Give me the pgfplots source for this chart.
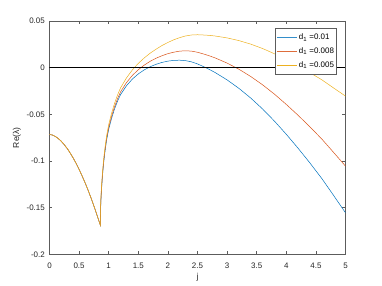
\documentclass[border=0pt]{standalone}
\usepackage{fontspec}
\setmainfont{Liberation Sans}
\usepackage{pgfplots}
\usepackage{pgfplotstable}
\pgfplotsset{compat=1.18}
\definecolor{mblue}{rgb}{0,0.447,0.741}
\definecolor{morange}{rgb}{0.850,0.325,0.098}
\definecolor{myellow}{rgb}{0.929,0.694,0.125}
\definecolor{axgray}{rgb}{0.15,0.15,0.15}

\pgfplotstableread{
j re
0 -0.0716
0.05 -0.0722
0.1 -0.0738
0.15 -0.0760
0.2 -0.0790
0.25 -0.0826
0.3 -0.0867
0.35 -0.0915
0.4 -0.0968
0.45 -0.1026
0.5 -0.1090
0.55 -0.1159
0.6 -0.1232
0.65 -0.1310
0.7 -0.1394
0.75 -0.1482
0.8 -0.1575
0.83 -0.1633
0.86 -0.1690
0.862 -0.1560
0.865 -0.1490
0.87 -0.1410
0.875 -0.1350
0.885 -0.1250
0.895 -0.1160
0.915 -0.1020
0.935 -0.0910
0.965 -0.0775
1.0 -0.0660
1.05 -0.0540
1.1 -0.0440
1.15 -0.0358
1.2 -0.0289
1.3 -0.0194
1.4 -0.0122
1.5 -0.0067
1.6 -0.0024
1.7 0.0010
1.8 0.0036
1.9 0.0056
2.0 0.0070
2.1 0.0078
2.2 0.0080
2.3 0.0075
2.4 0.0062
2.5 0.0040
2.6 0.0012
2.7 -0.0019
2.8 -0.0053
3.0 -0.0131
3.2 -0.0222
3.4 -0.0326
3.6 -0.0443
3.8 -0.0573
4.0 -0.0714
4.2 -0.0864
4.4 -0.1022
4.6 -0.1188
4.8 -0.1370
5.0 -0.1555
}\dataA

\pgfplotstableread{
j re
0 -0.0716
0.05 -0.0722
0.1 -0.0738
0.15 -0.0760
0.2 -0.0790
0.25 -0.0826
0.3 -0.0867
0.35 -0.0915
0.4 -0.0968
0.45 -0.1026
0.5 -0.1090
0.55 -0.1159
0.6 -0.1232
0.65 -0.1310
0.7 -0.1394
0.75 -0.1482
0.8 -0.1575
0.83 -0.1633
0.86 -0.1690
0.862 -0.1545
0.865 -0.1475
0.87 -0.1395
0.875 -0.1335
0.885 -0.1234
0.895 -0.1144
0.915 -0.1003
0.935 -0.0893
0.965 -0.0756
1.0 -0.0640
1.05 -0.0518
1.1 -0.0416
1.15 -0.0332
1.2 -0.0260
1.3 -0.0160
1.4 -0.0083
1.5 -0.0022
1.6 0.0027
1.7 0.0068
1.8 0.0101
1.9 0.0128
2.0 0.0150
2.1 0.0166
2.2 0.0177
2.3 0.0181
2.4 0.0177
2.5 0.0165
2.6 0.0147
2.7 0.0127
2.8 0.0104
3.0 0.0049
3.2 -0.0017
3.4 -0.0095
3.6 -0.0184
3.8 -0.0284
4.0 -0.0394
4.2 -0.0511
4.4 -0.0635
4.6 -0.0765
4.8 -0.0909
5.0 -0.1055
}\dataB

\pgfplotstableread{
j re
0 -0.0716
0.05 -0.0722
0.1 -0.0738
0.15 -0.0760
0.2 -0.0790
0.25 -0.0826
0.3 -0.0867
0.35 -0.0915
0.4 -0.0968
0.45 -0.1026
0.5 -0.1090
0.55 -0.1159
0.6 -0.1232
0.65 -0.1310
0.7 -0.1394
0.75 -0.1482
0.8 -0.1575
0.83 -0.1633
0.86 -0.1690
0.862 -0.1523
0.865 -0.1453
0.87 -0.1372
0.875 -0.1312
0.885 -0.1211
0.895 -0.1120
0.915 -0.0978
0.935 -0.0866
0.965 -0.0728
1.0 -0.0610
1.05 -0.0485
1.1 -0.0380
1.15 -0.0292
1.2 -0.0217
1.3 -0.0110
1.4 -0.0024
1.5 0.0046
1.6 0.0104
1.7 0.0155
1.8 0.0198
1.9 0.0237
2.0 0.0270
2.1 0.0299
2.2 0.0322
2.3 0.0340
2.4 0.0350
2.5 0.0353
2.6 0.0350
2.7 0.0346
2.8 0.0339
3.0 0.0319
3.2 0.0290
3.4 0.0252
3.6 0.0205
3.8 0.0149
4.0 0.0086
4.2 0.0018
4.4 -0.0054
4.6 -0.0130
4.8 -0.0218
5.0 -0.0305
}\dataC

\begin{document}
\begin{tikzpicture}
\path[use as bounding box] (-49.5bp,-31.7bp) rectangle (332.5bp,254.3bp);
\begin{axis}[
  at={(0,0)}, anchor=south west,
  scale only axis,
  width=296bp, height=233.3bp,
  xmin=0, xmax=5, ymin=-0.2, ymax=0.05,
  xtick={0,0.5,1,1.5,2,2.5,3,3.5,4,4.5,5},
  xticklabels={0,0.5,1,1.5,2,2.5,3,3.5,4,4.5,5},
  ytick={-0.2,-0.15,-0.1,-0.05,0,0.05},
  yticklabels={-0.2,-0.15,-0.1,-0.05,0,0.05},
  tick align=inside,
  major tick length=3bp,
  axis line style={draw=axgray!75, line width=0.5bp},
  every tick/.style={draw=axgray!75, line width=0.5bp},
  tick label style={font=\fontsize{8}{9.6}\selectfont, text=axgray, inner sep=0pt},
  xticklabel style={anchor=north, yshift=-8.4bp},
  yticklabel style={anchor=east, xshift=-4.5bp},
  xlabel={j},
  ylabel={Re(λ)},
  label style={font=\fontsize{8.6}{10}\selectfont, text=axgray, inner sep=0pt},
  xlabel style={at={([yshift=-19bp]axis description cs:0.5,0)}, anchor=north},
  ylabel style={at={([xshift=-28.5bp]axis description cs:0,0.5)}, anchor=south, rotate=0},
  legend style={at={(0.971,0.969)}, anchor=north east, draw=axgray!75, line width=0.5bp,
    font=\fontsize{8}{9.6}\selectfont,
    inner xsep=1.5bp, inner ysep=4bp, row sep=3.2bp,
    nodes={inner xsep=1.2bp, inner ysep=1.6bp}},
  legend cell align=left,
  legend image code/.code={\draw[#1] (0bp,0bp) -- (20bp,0bp);},
  clip=true,
]
\addplot[draw=mblue, line width=0.5bp, forget plot] table[x=j, y=re] {\dataA};
\addplot[draw=morange, line width=0.5bp, forget plot] table[x=j, y=re] {\dataB};
\addplot[draw=myellow, line width=0.5bp, forget plot] table[x=j, y=re] {\dataC};
\addplot[black, line width=0.6bp, forget plot] coordinates {(0,0) (5,0)};
\addlegendimage{draw=mblue!80!white, line width=0.6bp}
\addlegendentry{d\textsubscript{1} =0.01}
\addlegendimage{draw=morange!85!white, line width=0.6bp}
\addlegendentry{d\textsubscript{1} =0.008}
\addlegendimage{draw=myellow, line width=0.6bp}
\addlegendentry{d\textsubscript{1} =0.005}
\end{axis}
\end{tikzpicture}
\end{document}
